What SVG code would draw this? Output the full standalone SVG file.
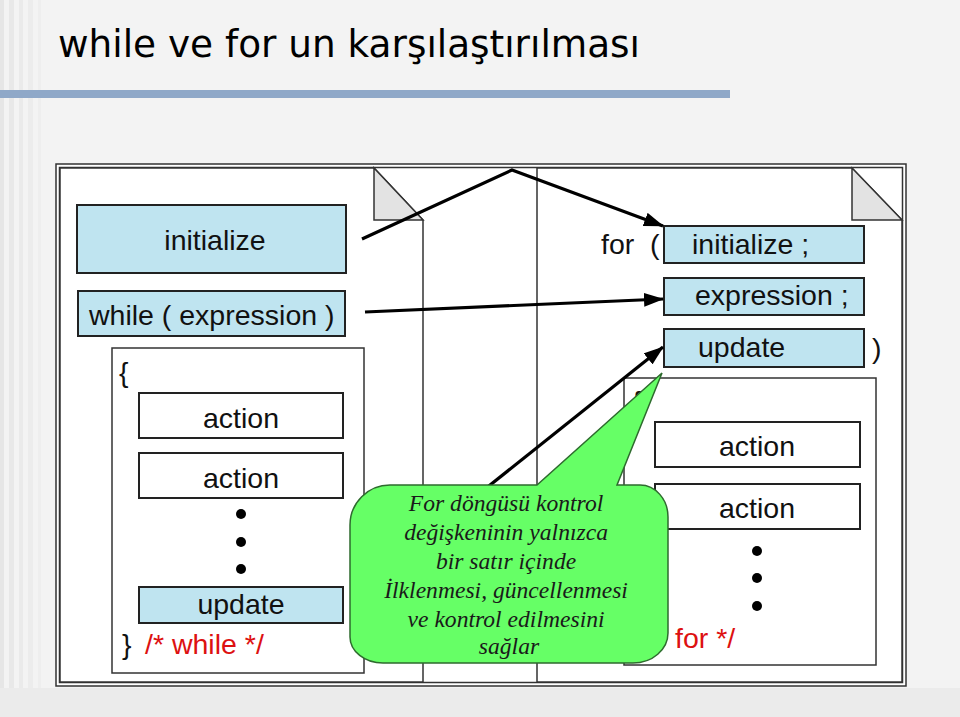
<svg xmlns="http://www.w3.org/2000/svg" width="960" height="717" viewBox="0 0 960 717">
<defs>
<marker id="ah" viewBox="0 0 20 14" refX="19" refY="7" markerWidth="20" markerHeight="14" markerUnits="userSpaceOnUse" orient="auto">
<path d="M0,0 L20,7 L0,14 Z" fill="#000"/>
</marker>
</defs>
<style>
.t{font-family:"Liberation Sans",Arial,sans-serif;font-size:28.5px;fill:#111}
.red{fill:#dd1111}
.bx{fill:#fff;stroke:#222;stroke-width:2}
.bl{fill:#bfe4f0;stroke:#222;stroke-width:2}
.pg{fill:#fff;stroke:#333;stroke-width:1.5}
.fold{fill:#e3e3e3;stroke:#333;stroke-width:1.5}
.ar{fill:none;stroke:#000;stroke-width:3.2;marker-end:url(#ah)}
.ct{font-family:"Liberation Serif","Times New Roman",serif;font-style:italic;font-weight:normal;font-size:23.6px;fill:#1a1a1a}
</style>
<rect width="960" height="717" fill="#f3f3f3"/>
<rect x="0" y="0" width="4" height="717" fill="#e6e6e6"/>
<rect x="9" y="0" width="5" height="717" fill="#e8e8e8"/>
<rect x="19" y="0" width="4" height="717" fill="#eaeaea"/>
<rect x="28" y="0" width="5" height="717" fill="#ececec"/>
<rect x="38" y="0" width="3" height="717" fill="#eeeeee"/>
<rect x="0" y="688" width="960" height="29" fill="#ebebeb"/>
<text x="58" y="57" font-family="DejaVu Sans,Verdana,sans-serif" font-size="37" fill="#000" textLength="582" lengthAdjust="spacingAndGlyphs">while ve for un karşılaştırılması</text>
<rect x="0" y="90" width="730" height="8" fill="#8fa8c8"/>

<g id="frame">
<rect x="56" y="164" width="850" height="522" fill="#fff" stroke="#333" stroke-width="1.5"/>
<rect x="59.5" y="167.5" width="843" height="515" fill="#fff" stroke="#333" stroke-width="1.5"/>
</g>

<g id="while-page">
<path class="pg" d="M60,168 L374,168 L423,220 L423,682 L60,682 Z"/>
<path class="fold" d="M374,168 L374,220 L423,220 Z"/>
</g>
<g id="for-page">
<path class="pg" d="M537,168 L852,168 L902,220 L902,682 L537,682 Z"/>
<path class="fold" d="M852,168 L852,220 L902,220 Z"/>
</g>

<g id="w-init"><rect class="bl" x="77" y="205" width="269" height="68"/><text class="t" x="215" y="250" text-anchor="middle">initialize</text></g>
<g id="w-while"><rect class="bl" x="78" y="291" width="267" height="45"/><text class="t" x="89" y="325">while ( expression )</text></g>
<g id="w-body"><rect class="pg" x="112" y="348" width="252" height="325"/><text class="t" x="119" y="382">{</text></g>
<g id="w-action1"><rect class="bx" x="139" y="393" width="204" height="45"/><text class="t" x="241" y="428" text-anchor="middle">action</text></g>
<g id="w-action2"><rect class="bx" x="139" y="453" width="204" height="45"/><text class="t" x="241" y="488" text-anchor="middle">action</text></g>
<g id="w-dots" fill="#000"><circle cx="241" cy="514" r="5"/><circle cx="241" cy="542" r="5"/><circle cx="241" cy="569" r="5"/></g>
<g id="w-update"><rect class="bl" x="139" y="587" width="204" height="36"/><text class="t" x="241" y="614" text-anchor="middle">update</text></g>
<g id="w-end"><text class="t" x="122" y="654">}</text><text class="t red" x="145" y="654">/* while */</text></g>

<g id="f-for"><text class="t" x="601" y="254" xml:space="preserve">for  (</text></g>
<g id="f-init"><rect class="bl" x="664" y="226" width="200" height="37"/><text class="t" x="692" y="254">initialize ;</text></g>
<g id="f-expr"><rect class="bl" x="664" y="278" width="200" height="37"/><text class="t" x="695" y="305">expression ;</text></g>
<g id="f-update"><rect class="bl" x="664" y="329" width="200" height="38"/><text class="t" x="698" y="357">update</text><text class="t" x="872" y="358">)</text></g>
<g id="f-body"><rect class="pg" x="624" y="378" width="252" height="287"/><text class="t" x="632" y="411">{</text></g>
<g id="f-action1"><rect class="bx" x="655" y="422" width="205" height="45"/><text class="t" x="757" y="456" text-anchor="middle">action</text></g>
<g id="f-action2"><rect class="bx" x="655" y="484" width="205" height="45"/><text class="t" x="757" y="518" text-anchor="middle">action</text></g>
<g id="f-dots" fill="#000"><circle cx="757" cy="551" r="5"/><circle cx="757" cy="578" r="5"/><circle cx="757" cy="606" r="5"/></g>
<g id="f-end"><text class="t red" x="675" y="648">for */</text></g>

<g id="connectors">
<polyline class="ar" points="362,239 512,170 663,226"/>
<line class="ar" x1="365" y1="312" x2="663" y2="299"/>
<line class="ar" x1="420" y1="541" x2="663" y2="347"/>
</g>

<g id="callout">
<path d="M390,485 L537,485 L662,373 L617,485 L640,485 A28 32 0 0 1 668,517 L668,633 A35 30 0 0 1 633,663 L383,663 A33 26 0 0 1 350,637 L350,525 A40 40 0 0 1 390,485 Z" fill="#66ff66" stroke="#2e6b2e" stroke-width="1.5"/>
<text class="ct" text-anchor="middle">
<tspan x="509" y="511">For döngüsü kontrol</tspan>
<tspan x="509" y="540">değişkeninin yalnızca</tspan>
<tspan x="509" y="569">bir satır içinde</tspan>
<tspan x="509" y="598">İlklenmesi, güncellenmesi</tspan>
<tspan x="509" y="627">ve kontrol edilmesini</tspan>
<tspan x="509" y="654">sağlar</tspan>
</text>
</g>
</svg>
